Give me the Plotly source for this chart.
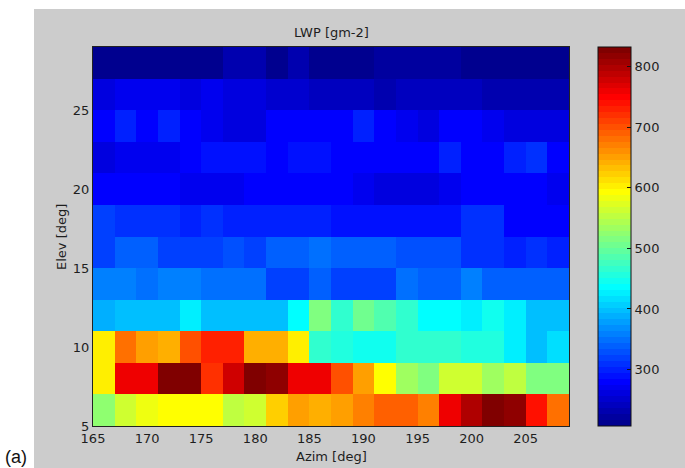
import numpy as np
import plotly.graph_objects as go

# Azimuth / elevation bin centres (deg)
azim = [166, 168, 170, 172, 174, 176, 178, 180, 182, 184, 186,
        188, 190, 192, 194, 196, 198, 200, 202, 204, 206, 208]
elev = [6, 8, 10, 12, 14, 16, 18, 20, 22, 24, 26, 28]

# Liquid water path per elevation row (g m-2), listed along azimuth
lwp_e06 = [529, 559, 579, 588, 588, 588, 549, 559, 626, 656, 646, 651, 671, 695, 695, 671, 754, 793, 827, 813, 744, 676]
lwp_e08 = [607, 763, 754, 832, 823, 715, 782, 832, 813, 763, 763, 705, 656, 588, 539, 510, 559, 559, 539, 549, 519, 519]
lwp_e10 = [607, 676, 651, 637, 705, 725, 725, 637, 637, 607, 470, 460, 451, 451, 470, 470, 470, 460, 460, 422, 402, 415]
lwp_e12 = [388, 402, 402, 402, 422, 402, 402, 393, 402, 441, 519, 470, 500, 490, 470, 441, 432, 422, 451, 422, 402, 402]
lwp_e14 = [354, 354, 349, 359, 359, 349, 349, 344, 324, 324, 339, 324, 324, 324, 349, 334, 334, 359, 339, 339, 339, 339]
lwp_e16 = [324, 334, 334, 324, 324, 324, 329, 324, 339, 339, 349, 339, 339, 339, 329, 329, 329, 314, 314, 295, 305, 295]
lwp_e18 = [324, 314, 314, 305, 295, 305, 295, 295, 295, 295, 295, 290, 290, 290, 290, 290, 290, 305, 305, 285, 285, 285]
lwp_e20 = [285, 285, 285, 285, 271, 271, 271, 285, 285, 285, 285, 282, 271, 262, 262, 262, 271, 285, 285, 276, 285, 267]
lwp_e22 = [262, 271, 271, 271, 285, 290, 290, 290, 285, 290, 290, 282, 282, 282, 282, 282, 295, 276, 276, 295, 305, 285]
lwp_e24 = [285, 295, 285, 295, 281, 271, 262, 262, 276, 285, 285, 285, 295, 282, 271, 262, 276, 276, 267, 257, 257, 257]
lwp_e26 = [257, 271, 271, 271, 257, 271, 262, 262, 251, 251, 238, 243, 243, 227, 243, 243, 243, 243, 227, 227, 227, 227]
lwp_e28 = [210, 210, 210, 210, 210, 210, 227, 227, 216, 227, 216, 207, 210, 224, 224, 224, 224, 216, 216, 216, 216, 216]

x_ticks = [165, 170, 175, 180, 185, 190, 195, 200, 205]
y_ticks = [5, 10, 15, 20, 25]
cbar_ticks = [300, 400, 500, 600, 700, 800]

z = [lwp_e06, lwp_e08, lwp_e10, lwp_e12, lwp_e14, lwp_e16,
     lwp_e18, lwp_e20, lwp_e22, lwp_e24, lwp_e26, lwp_e28]


def jet(m=64):
    """Classic 64-entry jet colour table."""
    n = int(np.ceil(m / 4))
    u = np.concatenate([np.arange(1, n + 1) / n, np.ones(n - 1), np.arange(n, 0, -1) / n])
    g = int(np.ceil(n / 2)) - (1 if m % 4 == 1 else 0) + np.arange(1, len(u) + 1)
    r = g + n
    b = g - n
    J = np.zeros((m, 3))
    for idx, val in zip(r, u):
        if idx <= m:
            J[idx - 1, 0] = val
    for idx, val in zip(g, u):
        if 1 <= idx <= m:
            J[idx - 1, 1] = val
    for idx, val in zip(b, u):
        if idx > 0:
            J[idx - 1, 2] = val
    return J


cmap = jet(64)
colorscale = []
for i, c in enumerate(cmap):
    col = "rgb(%d,%d,%d)" % tuple(int(round(v * 255)) for v in c)
    colorscale.append([i / 64, col])
    colorscale.append([(i + 1) / 64, col])

zarr = np.array(z, dtype=float)
zmin, zmax = float(zarr.min()), float(zarr.max())

FONT = "DejaVu Sans"
TXT = "#1e1e1e"

fig = go.Figure()
fig.add_trace(go.Heatmap(
    x=azim, y=elev, z=z,
    colorscale=colorscale, zmin=zmin, zmax=zmax,
    showscale=True,
    colorbar=dict(
        x=1.061, xanchor="left", xpad=0,
        y=0.5, yanchor="middle", ypad=0,
        len=1.0, lenmode="fraction",
        thickness=33,
        outlinecolor="#111", outlinewidth=1,
        tickvals=cbar_ticks, ticks="inside", ticklen=4, tickcolor="#111",
        tickfont=dict(family=FONT, size=13, color=TXT),
    ),
    hoverinfo="skip",
))

# ticks on the left edge of the colour bar
bar_x0 = 1.061 + 1 / 476
for v in cbar_ticks:
    yp = (v - zmin) / (zmax - zmin)
    fig.add_shape(type="line", xref="paper", yref="paper",
                  x0=bar_x0, x1=bar_x0 + 4 / 476, y0=yp, y1=yp,
                  line=dict(color="#111", width=1), layer="above")

# grey figure panel
fig.add_shape(type="rect", xref="paper", yref="paper",
              x0=(34 - 93) / 476, x1=(685 - 93) / 476 + 0.01,
              y0=-(468 - 426) / 379 - 0.01, y1=(426 - 9) / 379,
              fillcolor="#cccccc", line=dict(width=0), layer="below")

fig.update_xaxes(
    range=[165, 209], tickvals=x_ticks, ticks="", showgrid=False, zeroline=False,
    showline=True, linecolor="#222", linewidth=1, mirror=True,
    tickfont=dict(family=FONT, size=13, color=TXT),
)
fig.update_yaxes(
    range=[5, 29], tickvals=y_ticks, ticks="", showgrid=False, zeroline=False,
    showline=True, linecolor="#222", linewidth=1, mirror=True,
    tickfont=dict(family=FONT, size=13, color=TXT),
)

fig.add_annotation(text="LWP [gm-2]", xref="paper", yref="paper",
                   x=0.5, y=(426 - 33) / 379, xanchor="center", yanchor="middle",
                   showarrow=False,
                   font=dict(family=FONT, size=13, color=TXT))
fig.add_annotation(text="Azim [deg]", xref="paper", yref="paper",
                   x=0.5, y=(426 - 456) / 379, xanchor="center", yanchor="middle",
                   showarrow=False,
                   font=dict(family=FONT, size=13, color=TXT))
fig.add_annotation(text="Elev [deg]", xref="paper", yref="paper",
                   x=(61 - 93) / 476, y=(426 - 237) / 379,
                   xanchor="center", yanchor="middle", textangle=-90,
                   showarrow=False,
                   font=dict(family=FONT, size=13, color=TXT))
fig.add_annotation(text="(a)", xref="paper", yref="paper",
                   x=(3 - 93) / 476, xanchor="left",
                   y=(426 - 457) / 379, yanchor="middle",
                   showarrow=False,
                   font=dict(family="Liberation Sans", size=18, color="#111"))

fig.update_layout(
    width=685, height=468,
    margin=dict(l=93, r=116, t=47, b=42),
    paper_bgcolor="white", plot_bgcolor="#cccccc",
    showlegend=False,
)

fig.write_html("out.html")
